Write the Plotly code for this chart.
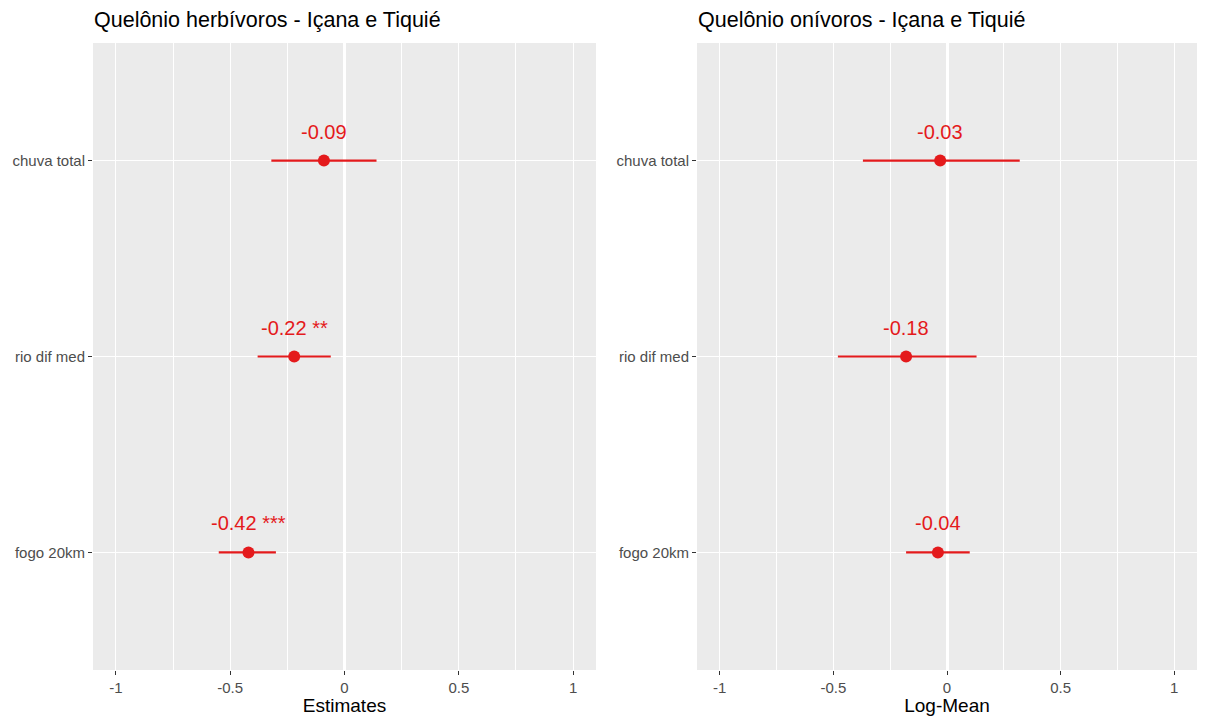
import plotly.graph_objects as go

categories = ["fogo 20km", "rio dif med", "chuva total"]

herb_est = [-0.42, -0.22, -0.09]
herb_lo = [-0.55, -0.38, -0.32]
herb_hi = [-0.30, -0.06, 0.14]
herb_lab = ["-0.42 ***", "-0.22 **", "-0.09"]

oni_est = [-0.04, -0.18, -0.03]
oni_lo = [-0.18, -0.48, -0.37]
oni_hi = [0.10, 0.13, 0.32]
oni_lab = ["-0.04", "-0.18", "-0.03"]

titles = ["Quelônio herbívoros - Içana e Tiquié", "Quelônio onívoros - Içana e Tiquié"]
xtitles = ["Estimates", "Log-Mean"]
xticks = [-1, -0.5, 0, 0.5, 1]
xticklabels = ["-1", "-0.5", "0", "0.5", "1"]

RED = "#E41A1C"
W, H = 1207, 716
FONT = "Liberation Sans, Arial, sans-serif"

fig = go.Figure()
ypos = list(range(1, len(categories) + 1))

panels = [
    (herb_est, herb_lo, herb_hi, herb_lab, "x", "y", (93 / W, 596 / W)),
    (oni_est, oni_lo, oni_hi, oni_lab, "x2", "y2", (697 / W, 1197 / W)),
]
ydom = (1 - 670 / H, 1 - 43 / H)

for i, (est, lo, hi, lab, xa, ya, dom) in enumerate(panels):
    fig.add_trace(go.Scatter(
        x=est, y=ypos, mode="markers", xaxis=xa, yaxis=ya,
        marker=dict(color=RED, size=12),
        error_x=dict(type="data", symmetric=False,
                     array=[h - e for h, e in zip(hi, est)],
                     arrayminus=[e - l for e, l in zip(est, lo)],
                     color=RED, thickness=2.2, width=0),
        showlegend=False, hoverinfo="skip"))
    for e, yv, t in zip(est, ypos, lab):
        fig.add_annotation(x=e, y=yv, xref=xa, yref=ya, text=t, showarrow=False,
                           yshift=29, font=dict(color=RED, size=20, family=FONT))
    sfx = "" if i == 0 else "2"
    fig.layout["xaxis" + sfx] = dict(
        domain=list(dom), range=[-1.1, 1.1], anchor=ya,
        tickvals=xticks, ticktext=xticklabels, ticks="outside", ticklen=4,
        tickcolor="#333333", tickwidth=1.1,
        tickfont=dict(size=15, color="#4D4D4D", family=FONT),
        showgrid=True, gridcolor="white", gridwidth=1.3, zeroline=True,
        zerolinecolor="white", zerolinewidth=2.5,
        minor=dict(tickvals=[-0.75, -0.25, 0.25, 0.75], showgrid=True,
                   gridcolor="white", gridwidth=0.6),
        title=dict(text=xtitles[i], font=dict(size=19, color="black", family=FONT), standoff=4),
        showline=False, fixedrange=True)
    fig.layout["yaxis" + sfx] = dict(
        domain=list(ydom), range=[0.4, 3.6], anchor=xa,
        tickvals=ypos, ticktext=categories, ticks="outside", ticklen=4,
        tickcolor="#333333", tickwidth=1.1,
        tickfont=dict(size=15, color="#4D4D4D", family=FONT),
        showgrid=True, gridcolor="white", gridwidth=1.3, zeroline=False,
        showline=False, fixedrange=True)
    fig.add_annotation(x=dom[0] - 1 / W, y=1 - 20 / H, xref="paper", yref="paper",
                       xanchor="left", yanchor="middle", text=titles[i], showarrow=False,
                       font=dict(size=21.5, color="black", family=FONT))

fig.update_layout(
    width=W, height=H, margin=dict(l=0, r=0, t=0, b=0),
    paper_bgcolor="white", plot_bgcolor="#EBEBEB",
    font=dict(family=FONT))

fig.write_html("out.html")
